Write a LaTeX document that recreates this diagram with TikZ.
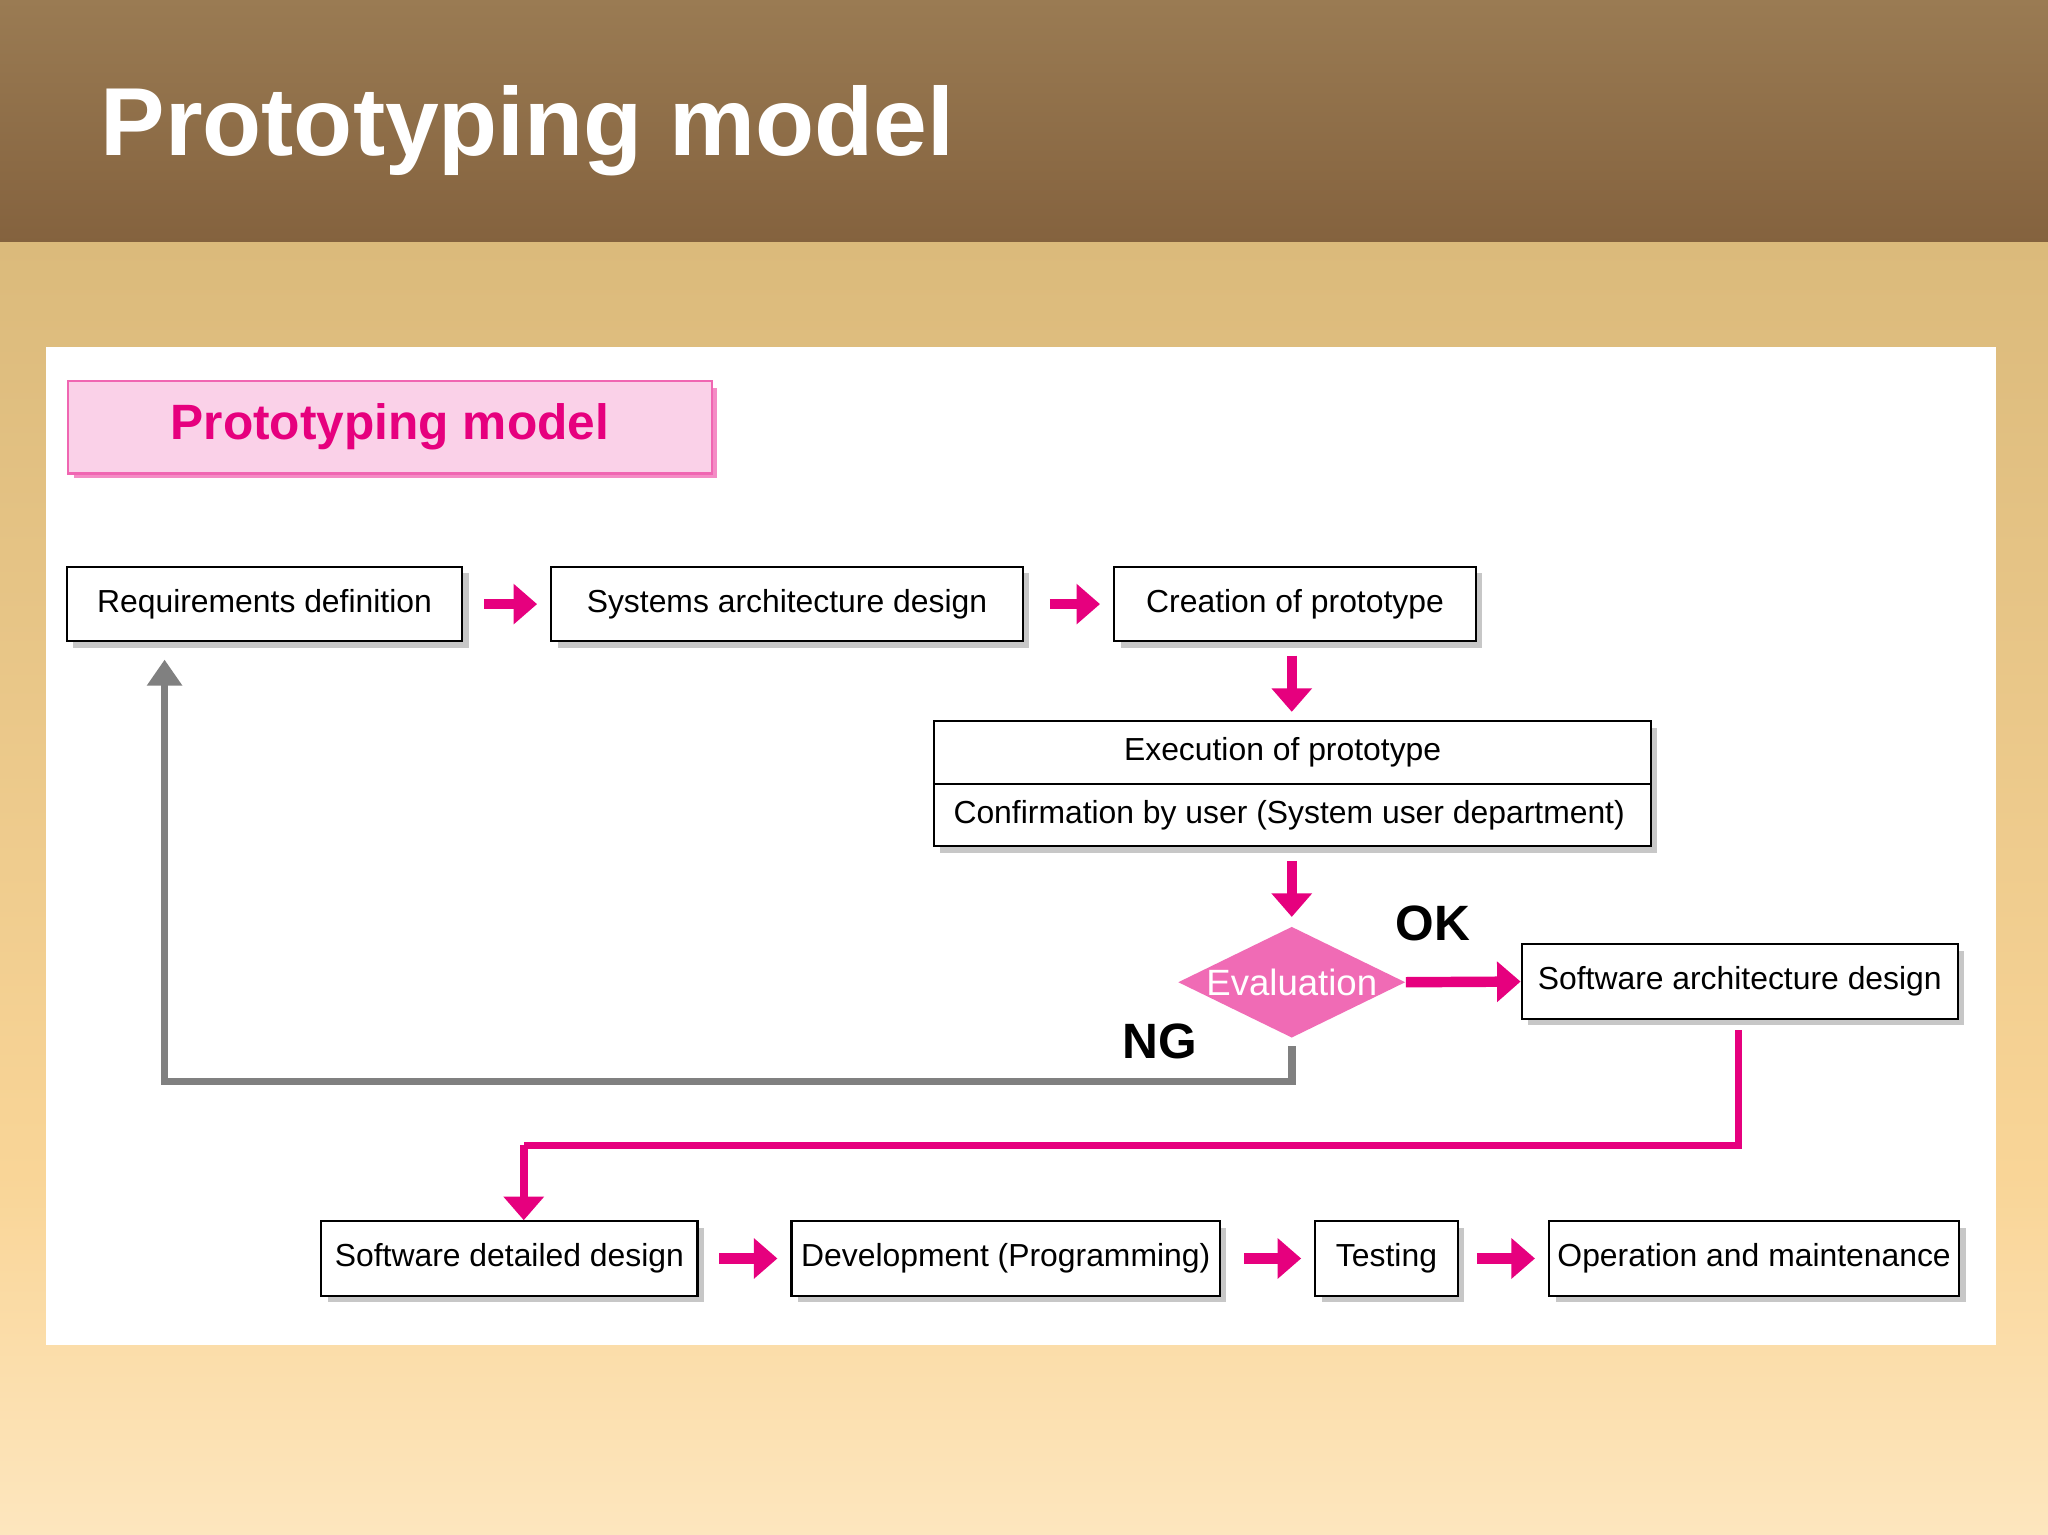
\documentclass[tikz,border=0pt]{standalone}
\usepackage{fontspec}
\setmainfont{Liberation Sans}
\usetikzlibrary{shapes.geometric,arrows.meta,shadows}
\definecolor{pk}{HTML}{E6007E}
\definecolor{pkfill}{HTML}{F06BB5}
\definecolor{brA}{HTML}{9A7B53}
\definecolor{brB}{HTML}{84623E}
\definecolor{tanA}{HTML}{DBBA7B}
\definecolor{tanB}{HTML}{F9D597}
\definecolor{tanC}{HTML}{FDE6BE}
\begin{document}
\begin{tikzpicture}[x=0.5pt,y=-0.5pt,
  box/.style={draw=black,fill=white,line width=0.8pt,inner sep=0pt,
    font=\fontsize{12.2}{15}\selectfont,
    drop shadow={shadow xshift=2.5pt,shadow yshift=-2.5pt,fill=black!22,opacity=1}},
  parrow/.style={draw=pk,line width=4pt,-{Triangle[length=9pt,width=15pt]}},
  garrow/.style={draw=black!50,line width=3pt,-{Triangle[length=10pt,width=13pt]}},
  lbl/.style={font=\bfseries\fontsize{19}{22}\selectfont}]
\useasboundingbox (0,0) rectangle (1568,1175);
\shade[top color=brA,bottom color=brB] (0,0) rectangle (1568,186);
\shade[top color=tanA,bottom color=tanB] (0,186) rectangle (1568,900);
\shade[top color=tanB,bottom color=tanC] (0,900) rectangle (1568,1175);
\node[anchor=west,text=white,font=\bfseries\fontsize{37}{40}\selectfont] (title) at (70,100) {Prototyping model};
\fill[white] (35,266) rectangle (1528,1030);
% label box
\fill[pk!45] (57,297) rectangle (549,366);
\node[draw=pk!60,fill=pk!18,line width=0.8pt,minimum width=246.5pt,minimum height=35.5pt,
  text=pk,font=\bfseries\fontsize{19}{22}\selectfont] (plabel) at (298.5,327) {Prototyping model};
% boxes
\node[box,minimum width=151.5pt,minimum height=28.5pt] (req) at (202.5,462.5) {Requirements definition};
\node[box,minimum width=180.5pt,minimum height=28.5pt] (sys) at (602.5,462.5) {Systems architecture design};
\node[box,minimum width=138.5pt,minimum height=28.5pt] (cre) at (991.5,462.5) {Creation of prototype};
\node[box,minimum width=274.5pt,minimum height=48pt] (exec) at (989.5,600) {};
\node[font=\fontsize{12.2}{15}\selectfont] (exect) at (982,576) {Execution of prototype};
\node[font=\fontsize{12.2}{15}\selectfont] (conf) at (987,624) {Confirmation by user (System user department)};
\draw[line width=0.8pt] (exec.west) -- (exec.east);
\node[diamond,fill=pkfill,aspect=2.05,minimum width=87pt,minimum height=42.5pt,inner sep=0pt,
  text=white,font=\fontsize{14}{17}\selectfont] (eval) at (989,752) {Evaluation};
\node[box,minimum width=167pt,minimum height=28.5pt] (swa) at (1332,751.5) {Software architecture design};
\node[box,minimum width=144pt,minimum height=28.5pt] (swd) at (390,963.5) {Software detailed design};
\node[box,minimum width=164pt,minimum height=28.5pt] (dev) at (770,963.5) {Development (Programming)};
\node[box,minimum width=54.5pt,minimum height=28.5pt] (tst) at (1061.5,963.5) {Testing};
\node[box,minimum width=157pt,minimum height=28.5pt] (op) at (1343,963.5) {Operation and maintenance};
\node[lbl] (ok) at (1097,707) {OK};
\node[lbl] (ng) at (888,797) {NG};
% arrows
\draw[parrow] ([xshift=8pt]req.east) -- ([xshift=-5pt]sys.west);
\draw[parrow] ([xshift=10pt]sys.east) -- ([xshift=-5pt]cre.west);
\draw[parrow] (989,502) -- (989,545);
\draw[parrow] (989,659) -- (989,702);
\draw[parrow] (eval.east) -- (swa.west);
\draw[parrow] ([xshift=8pt]swd.east) -- ([xshift=-5pt]dev.west);
\draw[parrow] ([xshift=9pt]dev.east) -- ([xshift=-5pt]tst.west);
\draw[parrow] ([xshift=7pt]tst.east) -- ([xshift=-5pt]op.west);
\draw[draw=pk,line width=3pt] (swa.south -| 1331,0) ++(0,8) |- (401,877) coordinate (bend);
\draw[parrow,line width=3pt] (bend) -- (swd.north -| 401,0);
\coordinate (gtop) at (126,505);
\draw[garrow] (eval.south) ++(0,6) -- (989,828) -| (gtop);
\end{tikzpicture}
\end{document}
